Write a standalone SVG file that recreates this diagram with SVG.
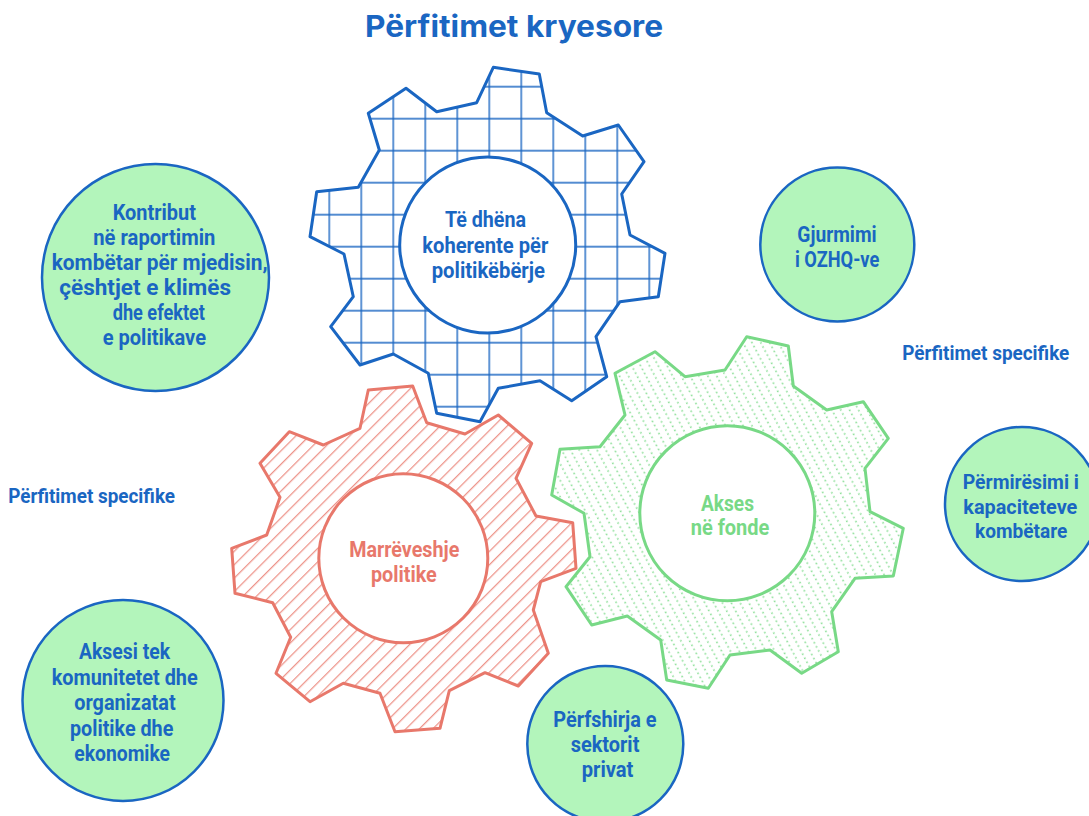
<svg xmlns="http://www.w3.org/2000/svg" width="1089" height="816" viewBox="0 0 1089 816">
<style>
.t{font-family:"Roboto","Liberation Sans",sans-serif;font-weight:700;}
.title{font-family:"Inter","Open Sans","Liberation Sans",sans-serif;font-weight:700;font-size:30px;fill:#1a66c2;}
.lbl{font-size:20px;fill:#1a66c2;}
.ct{font-size:22px;fill:#1a66c2;}
.ct2{font-size:21px;fill:#1a66c2;}
.gt{font-size:22px;}
.bubble{fill:#b3f5bb;stroke:#1a66c2;stroke-width:2.5;}
.gear{stroke-width:3;stroke-linejoin:round;}
.hub{fill:#ffffff;stroke-width:3;}
</style>
<defs>
<pattern id="grid" patternUnits="userSpaceOnUse" x="-6.7" y="6.7" width="32" height="32">
<path d="M16 0V32M0 16H32" stroke="#1a66c2" stroke-width="1.4" fill="none"/>
</pattern>
<pattern id="hatch" patternUnits="userSpaceOnUse" width="9.5" height="10" patternTransform="rotate(45)">
<line x1="4.5" y1="0" x2="4.5" y2="10" stroke="#e8786b" stroke-width="1"/>
</pattern>
<pattern id="dots" patternUnits="userSpaceOnUse" width="7.8" height="4.6" patternTransform="rotate(-28)">
<rect x="3.1" y="1.5" width="1.5" height="1.5" fill="#78d986"/>
</pattern>
</defs>
<text class="title" x="365" y="37.3" textLength="298" lengthAdjust="spacingAndGlyphs">Përfitimet kryesore</text>
<g id="gear-blue">
<polygon class="gear" fill="url(#grid)" stroke="#1a66c2" points="493.3,67.3 539.3,74 546.7,112.7 582.7,136 618.3,125 644,161.7 621.7,194 630,235 665,253.3 658.3,296.7 620,301.7 596,336.7 606.7,376.7 571.7,400.7 540,380.7 498.3,388.3 480,421.7 436.7,413.3 428.3,373.3 393.3,354 360,365 330.7,326.7 353.3,296.7 344,254 310,236.7 316.7,191.7 358.3,187.3 379.3,150 368.3,113.3 406,88.3 436.7,111.7 476.7,102.7"/>
<circle class="hub" cx="487.7" cy="245" r="88" stroke="#1a66c2"/>
<text class="t gt" fill="#1a66c2" x="445" y="226.7" textLength="81" lengthAdjust="spacingAndGlyphs">Të dhëna</text>
<text class="t gt" fill="#1a66c2" x="422.3" y="252.7" textLength="126" lengthAdjust="spacingAndGlyphs">koherente për</text>
<text class="t gt" fill="#1a66c2" x="431.7" y="278.3" textLength="113.3" lengthAdjust="spacingAndGlyphs">politikëbërje</text>
</g>
<g id="gear-red">
<polygon class="gear" fill="url(#hatch)" stroke="#e8786b" points="368.3,390 412.7,386 426.7,422.7 465,434 498.3,415 531.7,443.3 516,478.3 536,516 572.7,522.7 576,568.3 540.7,581.7 533.3,610 548.3,653.3 518.3,686 485,672.7 449.3,690.7 440,728.3 395,731.7 380,693.3 343.3,683.3 310,701.7 276,673.3 290.7,637.3 272.7,602.7 235,593.3 231.7,548.3 266.7,535 280,497.3 260,463.3 289.3,431.7 323.3,445 360,428.3"/>
<circle class="hub" cx="403.3" cy="558.3" r="84.5" stroke="#e8786b"/>
<text class="t gt" fill="#e8786b" x="349.3" y="557.3" textLength="110" lengthAdjust="spacingAndGlyphs">Marrëveshje</text>
<text class="t gt" fill="#e8786b" x="371" y="582.3" textLength="65.7" lengthAdjust="spacingAndGlyphs">politike</text>
</g>
<g id="gear-green">
<polygon class="gear" fill="url(#dots)" stroke="#78d986" points="746.7,336.7 788.3,346 793.3,386 826.7,410 863.3,401.7 888.3,438.3 865,468.3 870,511.7 903.3,528.3 893.3,576 855,578.3 831.7,611.7 838.3,651.7 801.7,673.3 770,650 730,655 708.3,688.3 666.7,680 660.7,640 627.3,616 591.7,625 566,586.7 590,556.7 584,513.3 551.7,495 560,449.3 600,446.7 625,415 615,373.3 655,351.7 685,376.7 725,370"/>
<circle class="hub" cx="727.3" cy="513.3" r="87.5" stroke="#78d986"/>
<text class="t gt" fill="#78d986" x="701" y="511" textLength="53" lengthAdjust="spacingAndGlyphs">Akses</text>
<text class="t gt" fill="#78d986" x="690.7" y="535" textLength="78.6" lengthAdjust="spacingAndGlyphs">në fonde</text>
</g>
<g id="bubble-kontribut">
<circle class="bubble" cx="155.5" cy="277.5" r="113.5"/>
<text class="t ct" x="112.7" y="220" textLength="83.3" lengthAdjust="spacingAndGlyphs">Kontribut</text>
<text class="t ct" x="93.3" y="244.5" textLength="122" lengthAdjust="spacingAndGlyphs">në raportimin</text>
<text class="t ct" x="51.7" y="269.5" textLength="216" lengthAdjust="spacingAndGlyphs">kombëtar për mjedisin,</text>
<text class="t ct" x="59.3" y="295" textLength="171.7" lengthAdjust="spacingAndGlyphs">çështjet e klimës</text>
<text class="t ct" x="112.7" y="320" textLength="92.3" lengthAdjust="spacingAndGlyphs">dhe efektet</text>
<text class="t ct" x="102.7" y="345" textLength="103.3" lengthAdjust="spacingAndGlyphs">e politikave</text>
</g>
<g id="bubble-gjurmimi">
<circle class="bubble" cx="837.3" cy="244.5" r="77"/>
<text class="t ct" x="797.3" y="241.7" textLength="79.3" lengthAdjust="spacingAndGlyphs">Gjurmimi</text>
<text class="t ct" x="795" y="266.7" textLength="84.3" lengthAdjust="spacingAndGlyphs">i OZHQ-ve</text>
</g>
<g id="bubble-permiresimi">
<circle class="bubble" cx="1022" cy="504" r="77"/>
<text class="t ct2" x="962.7" y="489" textLength="116.3" lengthAdjust="spacingAndGlyphs">Përmirësimi i</text>
<text class="t ct2" x="963.3" y="514" textLength="114" lengthAdjust="spacingAndGlyphs">kapaciteteve</text>
<text class="t ct2" x="975" y="537.7" textLength="92.3" lengthAdjust="spacingAndGlyphs">kombëtare</text>
</g>
<g id="bubble-aksesi">
<circle class="bubble" cx="123" cy="700.5" r="100.5"/>
<text class="t ct" x="79" y="659" textLength="91" lengthAdjust="spacingAndGlyphs">Aksesi tek</text>
<text class="t ct" x="51.7" y="684.5" textLength="146" lengthAdjust="spacingAndGlyphs">komunitetet dhe</text>
<text class="t ct" x="74.3" y="710" textLength="101.3" lengthAdjust="spacingAndGlyphs">organizatat</text>
<text class="t ct" x="70" y="735.5" textLength="103.3" lengthAdjust="spacingAndGlyphs">politike dhe</text>
<text class="t ct" x="74.3" y="761" textLength="95.7" lengthAdjust="spacingAndGlyphs">ekonomike</text>
</g>
<g id="bubble-perfshirja">
<circle class="bubble" cx="605.3" cy="744" r="78"/>
<text class="t ct" x="553.3" y="726.7" textLength="103.3" lengthAdjust="spacingAndGlyphs">Përfshirja e</text>
<text class="t ct" x="570.7" y="751.7" textLength="68.7" lengthAdjust="spacingAndGlyphs">sektorit</text>
<text class="t ct" x="581.7" y="776.7" textLength="51.7" lengthAdjust="spacingAndGlyphs">privat</text>
</g>
<g id="labels">
<text class="t lbl" x="8.3" y="503" textLength="166.7" lengthAdjust="spacingAndGlyphs">Përfitimet specifike</text>
<text class="t lbl" x="902.3" y="359.5" textLength="167" lengthAdjust="spacingAndGlyphs">Përfitimet specifike</text>
</g>
<g id="connectors"></g>
</svg>
